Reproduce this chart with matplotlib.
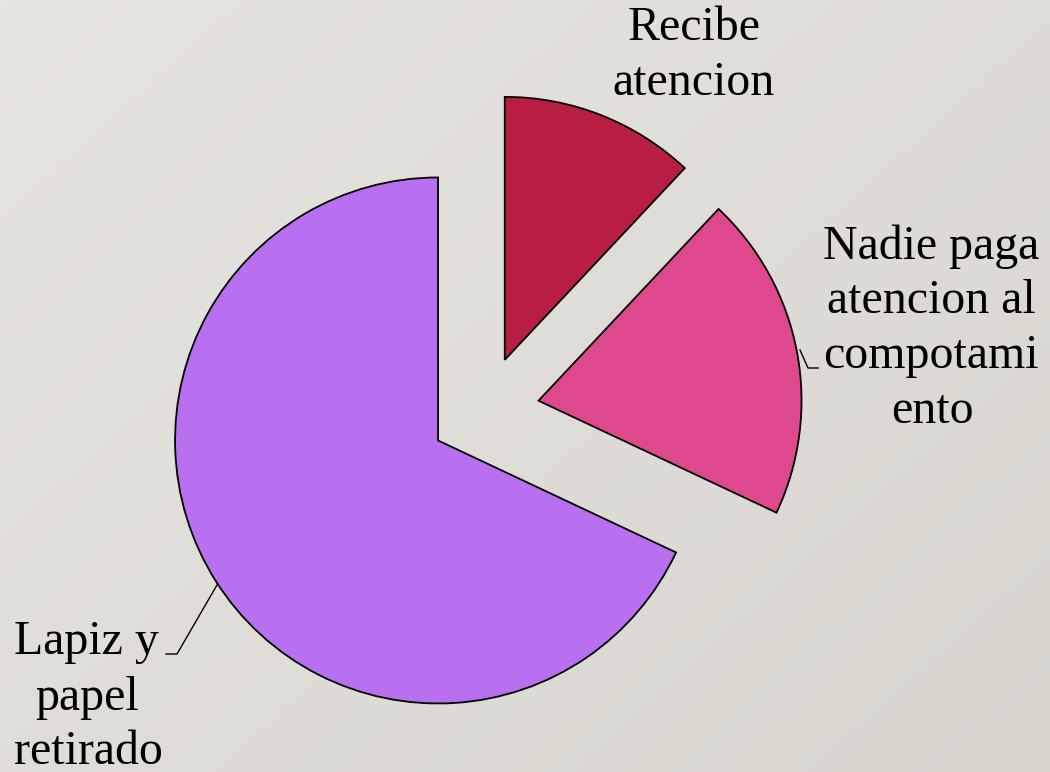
import numpy as np
import matplotlib
matplotlib.use("Agg")
import matplotlib.pyplot as plt
from matplotlib.colors import LinearSegmentedColormap

categories = ["Recibe atencion", "Nadie paga atencion al compotamiento", "Lapiz y papel retirado"]
values = [12, 20, 68]
colors = ["#B71E42", "#DE498E", "#B970F0"]
label_lines = [["Recibe", "atencion"],
               ["Nadie paga", "atencion al", "compotami", "ento"],
               ["Lapiz y", "papel", "retirado"]]

W, H = 1050, 772
fig = plt.figure(figsize=(W / 100, H / 100), dpi=100)

# background gradient
bg = fig.add_axes([0, 0, 1, 1], zorder=0)
yy, xx = np.mgrid[0:1:200j, 0:1:200j]
grad = (xx * 0.55 + yy * 0.45)
cmap = LinearSegmentedColormap.from_list("bg", ["#E7E5E1", "#D8D5CF"])
bg.imshow(grad, cmap=cmap, aspect="auto", extent=[0, 1, 0, 1], origin="upper")
bg.axis("off")

ax = fig.add_axes([0, 0, 1, 1], zorder=1)
ax.patch.set_alpha(0)

cx, cy = 484.5, H - 411
R = 263
ex = 55  # explode offset in data units (pixels)
ax.pie(values, colors=colors, startangle=90, counterclock=False,
       center=(cx, cy), radius=R, explode=[ex, ex, ex],
       wedgeprops=dict(edgecolor="black", linewidth=1.3), frame=True)
ax.set_xlim(0, W)
ax.set_ylim(0, H)
ax.set_aspect("equal")
ax.axis("off")

font = dict(family="Liberation Serif", fontsize=34.5, color="black",
            ha="center", va="baseline")

# label positions (pixel baselines)
pos = [[(694, 40), (693, 95)],
       [(931, 259), (931, 313), (931, 368), (932, 423)],
       [(86, 654), (87, 710), (88, 764)]]
for lines, ps in zip(label_lines, pos):
    for t, (x, y) in zip(lines, ps):
        ax.text(x, H - y, t, **font)

# leader lines
ax.plot([800, 808, 818], [H - 350, H - 368, H - 368], color="black", lw=1.0)
ax.plot([217, 177, 166], [H - 585, H - 654, H - 654], color="black", lw=1.0)

fig.savefig("out.png", dpi=100)
